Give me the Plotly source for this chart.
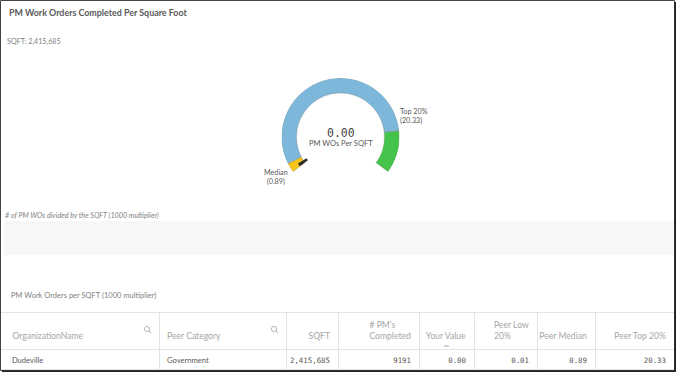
import numpy as np
import plotly.graph_objects as go

W, H = 679, 373

# ---------------- data ----------------
title = "PM Work Orders Completed Per Square Foot"
sqft_label = "SQFT: 2,415,685"
gauge_value = 0.00
gauge_caption = "PM WOs Per SQFT"
peer_median = 0.89
peer_top20 = 20.33
gauge_max = 24.40
seg_names = ["Below median", "Median to top 20%", "Top 20%"]
seg_colors = ["#f6c41a", "#7db7da", "#45c44b"]
note_text = "# of PM WOs divided by the SQFT (1000 multiplier)"
table_title = "PM Work Orders per SQFT (1000 multiplier)"

col_headers = ["OrganizationName", "Peer Category", "SQFT", "# PM's<br>Completed",
               "Your Value", "Peer Low<br>20%", "Peer Median", "Peer Top 20%"]
org_names = ["Dudeville"]
peer_categories = ["Government"]
sqft_values = ["2,415,685"]
pm_completed = ["9191"]
your_values = ["0.00"]
peer_low20_values = ["0.01"]
peer_median_values = ["0.89"]
peer_top20_values = ["20.33"]

# ---------------- styling ----------------
SANS = "Lato, Open Sans, sans-serif"
MONO = "DejaVu Sans Mono, monospace"
SPAN = 252.0          # gauge sweep in degrees
START = 216.0         # math angle where value 0 sits
CX, CY, R = 340.5, 137.0, 59.0
HOLE = 0.745


def px(x):
    return x / W


def py(y):
    return 1 - y / H


def deg(v):
    return v / gauge_max * SPAN


fig = go.Figure()

# ---------------- gauge ----------------
bounds = [0.0, peer_median, peer_top20, gauge_max]
thetas = [(deg(a) + deg(b)) / 2 for a, b in zip(bounds[:-1], bounds[1:])]
widths = [deg(b) - deg(a) for a, b in zip(bounds[:-1], bounds[1:])]
fig.add_trace(go.Barpolar(
    theta=thetas, width=widths, r=[1 - HOLE] * 3, base=[HOLE] * 3,
    marker=dict(color=seg_colors, line=dict(width=0.6, color="rgba(120,120,120,0.5)")),
    text=seg_names, hoverinfo="text", showlegend=False, subplot="polar"))
# value indicator
fig.add_trace(go.Barpolar(
    theta=[deg(gauge_value) + 2.2], width=[3.6], r=[0.17], base=[0.68],
    marker=dict(color="#2b2b2b", line=dict(width=0)),
    hoverinfo="skip", showlegend=False, subplot="polar"))

fig.update_layout(polar=dict(
    domain=dict(x=[px(CX - R), px(CX + R)], y=[py(CY + R), py(CY - R)]),
    bgcolor="rgba(0,0,0,0)",
    radialaxis=dict(visible=False, range=[0, 1]),
    angularaxis=dict(visible=False, rotation=START, direction="clockwise",
                     thetaunit="degrees", showgrid=False, showline=False, ticks=""),
))

annotations = []
shapes = []


def note(x, y, text, font, xanchor="left", yanchor="middle", align="left"):
    annotations.append(dict(x=px(x), y=py(y), xref="paper", yref="paper",
                            xanchor=xanchor, yanchor=yanchor, align=align,
                            text=text, showarrow=False, font=font))


# center value
note(CX, CY - 4, f"{gauge_value:.2f}", dict(family=MONO, size=11.5, color="#444444"),
     xanchor="center", align="center")
note(CX, CY + 6, gauge_caption, dict(family=SANS, size=7.5, color="#595959"),
     xanchor="center", align="center")

# gauge labels placed from the value angles
a_top = np.radians(START - deg(peer_top20))
tx, ty = CX + R * np.cos(a_top), CY - R * np.sin(a_top)
note(tx - 1.5, ty - 4, f"Top 20%<br>({peer_top20:.2f})",
     dict(family=SANS, size=7.2, color="#595959"), yanchor="bottom")
a_med = np.radians(START - deg(peer_median))
mx, my = CX + R * np.cos(a_med), CY - R * np.sin(a_med)
note(mx + 2, my + 2, f"Median<br>({peer_median:.2f})",
     dict(family=SANS, size=7.2, color="#595959"), xanchor="right", yanchor="top",
     align="center")

# ---------------- texts ----------------
note(7, 12.5, f"<b>{title}</b>", dict(family=SANS, size=8.9, color="#595959"))
note(5, 42, sqft_label, dict(family=SANS, size=7.2, color="#7f7f7f"))
note(3, 215, f"<i>{note_text}</i>", dict(family=SANS, size=7.2, color="#7f7f7f"))
note(9, 295.5, table_title, dict(family=SANS, size=7.5, color="#7f7f7f"))

# gray band
shapes.append(dict(type="rect", xref="paper", yref="paper", x0=px(4), x1=px(675),
                   y0=py(255), y1=py(221), fillcolor="#f7f7f7", line=dict(width=0), layer="below"))

# ---------------- table ----------------
col_w = [159, 127, 52, 81, 55, 63, 58, 79]
TX0, TX1, TY0, TY1 = 0, 674, 312, 370
PAD = "\u00a0\u00a0"
hdr_vals = [h if "<br>" in h else "\u00a0<br>" + h for h in col_headers]
hdr_vals[0] = "\u00a0<br>" + PAD + col_headers[0]
aligns = ["left", "left"] + ["right"] * 6
cell_fonts = [SANS, SANS] + [MONO] * 6
cell_sizes = [7.6, 7.6] + [7.4] * 6
fig.add_trace(go.Table(
    domain=dict(x=[px(TX0), px(TX1)], y=[py(TY1), py(TY0)]),
    columnwidth=col_w,
    header=dict(values=hdr_vals, align=aligns, height=36,
                fill=dict(color="white"), line=dict(color="#e3e3e3", width=1),
                font=dict(family=SANS, size=8.6, color="#a6a6a6")),
    cells=dict(values=[[PAD + n for n in org_names], peer_categories, sqft_values,
                       pm_completed, your_values, peer_low20_values,
                       peer_median_values, peer_top20_values],
               align=aligns, height=20,
               fill=dict(color="white"), line=dict(color="#e3e3e3", width=1),
               font=dict(family=cell_fonts, size=cell_sizes, color="#595959")),
))

# search icons in the first two header cells
edges = np.cumsum([0] + col_w)
for i in range(2):
    ix = TX0 + edges[i + 1] - 12
    iy = 329
    shapes.append(dict(type="circle", xref="paper", yref="paper",
                       x0=px(ix - 2.6), x1=px(ix + 2.6), y0=py(iy + 2.6), y1=py(iy - 2.6),
                       line=dict(color="#b0b0b0", width=0.9)))
    shapes.append(dict(type="line", xref="paper", yref="paper",
                       x0=px(ix + 1.9), x1=px(ix + 4.2), y0=py(iy + 1.9), y1=py(iy + 4.2),
                       line=dict(color="#b0b0b0", width=1)))
# sort marker under "Your Value"
sx = TX0 + (edges[4] + edges[5]) / 2 + 0
shapes.append(dict(type="line", xref="paper", yref="paper",
                   x0=px(sx - 2.5), x1=px(sx + 2.5), y0=py(346), y1=py(346),
                   line=dict(color="#aaaaaa", width=1)))

# ---------------- outer frame ----------------
shapes.append(dict(type="rect", xref="paper", yref="paper", x0=px(0.5), x1=px(674.5),
                   y0=py(370.5), y1=py(0.5), line=dict(color="#444444", width=1),
                   fillcolor="rgba(0,0,0,0)"))
shapes.append(dict(type="line", xref="paper", yref="paper", x0=px(675.2), x1=px(675.2),
                   y0=py(2), y1=py(372), line=dict(color="#222222", width=1.6)))
shapes.append(dict(type="line", xref="paper", yref="paper", x0=px(2), x1=px(676),
                   y0=py(371.2), y1=py(371.2), line=dict(color="#222222", width=1.6)))

fig.update_layout(
    width=W, height=H, margin=dict(l=0, r=0, t=0, b=0),
    paper_bgcolor="white", plot_bgcolor="white",
    annotations=annotations, shapes=shapes, showlegend=False,
)

fig.write_html("out.html", config={"displayModeBar": False})
